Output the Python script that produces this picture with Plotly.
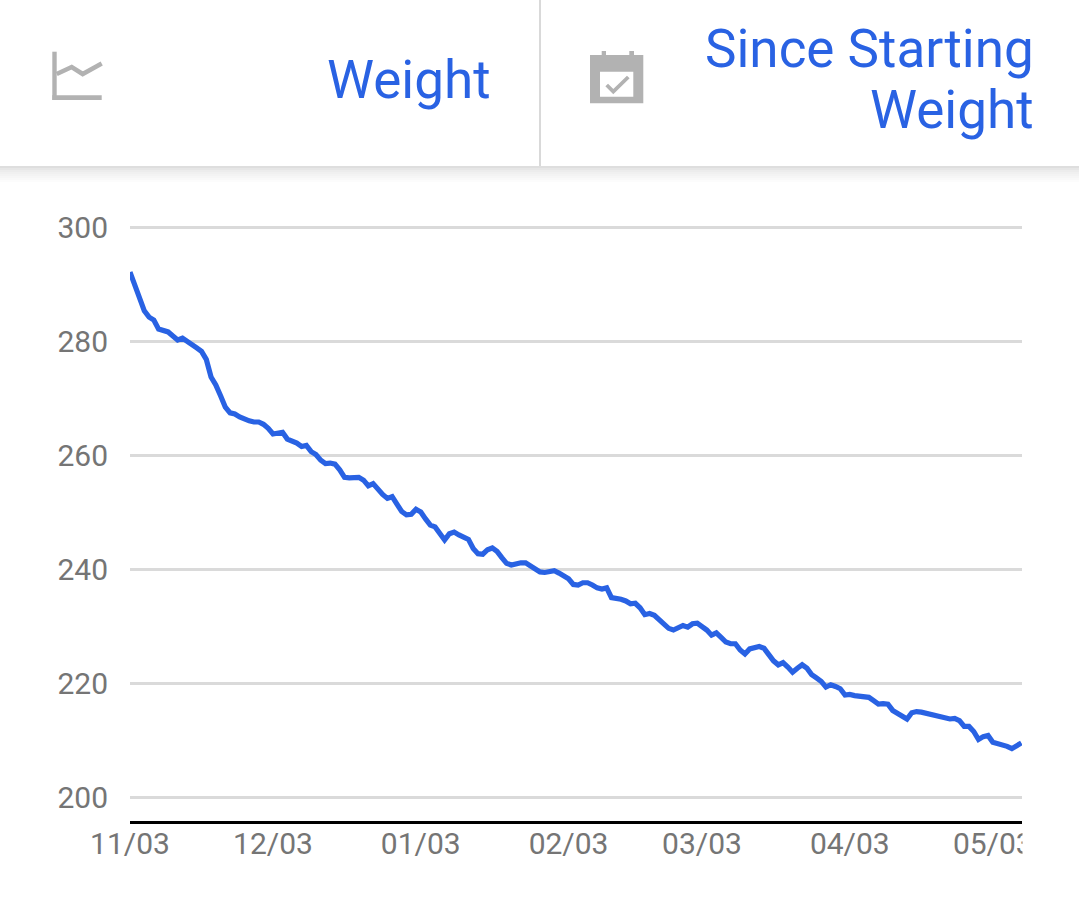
import plotly.graph_objects as go

# ---------------- data ----------------
dates = [
    # Nov 2020
    "2020-11-03", "2020-11-04", "2020-11-05", "2020-11-06", "2020-11-07", "2020-11-08", "2020-11-09",
    "2020-11-10", "2020-11-11", "2020-11-12", "2020-11-13", "2020-11-14", "2020-11-15", "2020-11-16",
    "2020-11-17", "2020-11-18", "2020-11-19", "2020-11-20", "2020-11-21", "2020-11-22", "2020-11-23",
    "2020-11-24", "2020-11-25", "2020-11-26", "2020-11-27", "2020-11-28", "2020-11-29", "2020-11-30",
    # Dec 2020
    "2020-12-01", "2020-12-02", "2020-12-03", "2020-12-04", "2020-12-05", "2020-12-06", "2020-12-07",
    "2020-12-08", "2020-12-09", "2020-12-10", "2020-12-11", "2020-12-12", "2020-12-13", "2020-12-14",
    "2020-12-15", "2020-12-16", "2020-12-17", "2020-12-18", "2020-12-19", "2020-12-20", "2020-12-21",
    "2020-12-22", "2020-12-23", "2020-12-24", "2020-12-25", "2020-12-26", "2020-12-27", "2020-12-28",
    "2020-12-29", "2020-12-30", "2020-12-31",
    # Jan 2021
    "2021-01-01", "2021-01-02", "2021-01-03", "2021-01-04", "2021-01-05", "2021-01-06", "2021-01-07",
    "2021-01-08", "2021-01-09", "2021-01-10", "2021-01-11", "2021-01-12", "2021-01-13", "2021-01-14",
    "2021-01-15", "2021-01-16", "2021-01-17", "2021-01-18", "2021-01-19", "2021-01-20", "2021-01-21",
    "2021-01-22", "2021-01-23", "2021-01-24", "2021-01-25", "2021-01-26", "2021-01-27", "2021-01-28",
    "2021-01-29", "2021-01-30", "2021-01-31",
    # Feb 2021
    "2021-02-01", "2021-02-02", "2021-02-03", "2021-02-04", "2021-02-05", "2021-02-06", "2021-02-07",
    "2021-02-08", "2021-02-09", "2021-02-10", "2021-02-11", "2021-02-12", "2021-02-13", "2021-02-14",
    "2021-02-15", "2021-02-16", "2021-02-17", "2021-02-18", "2021-02-19", "2021-02-20", "2021-02-21",
    "2021-02-22", "2021-02-23", "2021-02-24", "2021-02-25", "2021-02-26", "2021-02-27", "2021-02-28",
    # Mar 2021
    "2021-03-01", "2021-03-02", "2021-03-03", "2021-03-04", "2021-03-05", "2021-03-06", "2021-03-07",
    "2021-03-08", "2021-03-09", "2021-03-10", "2021-03-11", "2021-03-12", "2021-03-13", "2021-03-14",
    "2021-03-15", "2021-03-16", "2021-03-17", "2021-03-18", "2021-03-19", "2021-03-20", "2021-03-21",
    "2021-03-22", "2021-03-23", "2021-03-24", "2021-03-25", "2021-03-26", "2021-03-27", "2021-03-28",
    "2021-03-29", "2021-03-30", "2021-03-31",
    # Apr 2021
    "2021-04-01", "2021-04-02", "2021-04-03", "2021-04-04", "2021-04-05", "2021-04-06", "2021-04-07",
    "2021-04-08", "2021-04-09", "2021-04-10", "2021-04-11", "2021-04-12", "2021-04-13", "2021-04-14",
    "2021-04-15", "2021-04-16", "2021-04-17", "2021-04-18",
    "2021-04-24", "2021-04-25", "2021-04-26", "2021-04-27", "2021-04-28", "2021-04-29", "2021-04-30",
    # May 2021
    "2021-05-01", "2021-05-02", "2021-05-03", "2021-05-04", "2021-05-05", "2021-05-06", "2021-05-07",
    "2021-05-08", "2021-05-09",
]

weights = [
    # Nov
    292.1, 289.8, 287.4, 285.3, 284.2, 283.7, 282.1,
    281.8, 281.6, 280.9, 280.2, 280.5, 280.0, 279.3,
    278.8, 278.2, 276.8, 273.7, 272.3, 270.4, 268.4,
    267.4, 267.2, 266.7, 266.3, 266.0, 265.8, 265.8,
    # Dec
    265.4, 264.7, 263.7, 263.9, 264.0, 262.8, 262.5,
    262.1, 261.5, 261.7, 260.6, 260.1, 259.1, 258.5,
    258.6, 258.4, 257.4, 256.1, 256.0, 256.0, 256.1,
    255.6, 254.6, 255.0, 254.0, 253.1, 252.4, 252.7,
    251.4, 250.1, 249.5,
    # Jan
    249.6, 250.5, 250.0, 248.8, 247.7, 247.4, 246.3,
    245.1, 246.2, 246.5, 246.0, 245.6, 245.2, 243.6,
    242.7, 242.6, 243.4, 243.7, 243.1, 242.0, 241.0,
    240.7, 241.0, 241.1, 241.1, 240.6, 240.0, 239.5,
    239.4, 239.6, 239.7,
    # Feb
    239.3, 238.8, 238.3, 237.3, 237.2, 237.6, 237.6,
    237.2, 236.7, 236.5, 236.7, 235.0, 234.9, 234.7,
    234.4, 233.9, 234.0, 233.2, 232.0, 232.2, 231.9,
    231.1, 230.3, 229.6, 229.3, 229.7, 230.1, 229.8,
    # Mar
    230.4, 230.5, 229.9, 229.3, 228.4, 228.8, 228.0,
    227.2, 226.9, 226.9, 225.8, 225.1, 226.0, 226.1,
    226.4, 226.1, 225.0, 223.9, 223.2, 223.6, 222.8,
    221.9, 222.6, 223.2, 222.6, 221.5, 220.9, 220.3,
    219.3, 219.7, 219.4,
    # Apr
    219.0, 217.9, 218.0, 217.8, 217.7, 217.7, 217.5,
    216.9, 216.3, 216.4, 216.3, 215.2, 214.7, 214.3,
    213.7, 214.8, 215.0, 214.9,
    213.7, 213.8, 213.4, 212.4, 212.4, 211.5, 210.1,
    # May
    210.6, 210.8, 209.6, 209.4, 209.3, 208.9, 208.5,
    209.1, 209.5,
]

x_tick_dates = ["2020-11-03", "2020-12-03", "2021-01-03", "2021-02-03",
                "2021-03-03", "2021-04-03", "2021-05-03"]
x_tick_labels = ["11/03", "12/03", "01/03", "02/03", "03/03", "04/03", "05/03"]
y_tick_vals = [200, 220, 240, 260, 280, 300]
y_tick_labels = ["200", "220", "240", "260", "280", "300"]

header_left = "Weight"
header_right_1 = "Since Starting"
header_right_2 = "Weight"

# ---------------- styling ----------------
W, H = 1079, 912
ML, MR, MT, MB = 130, 57, 198, 91
BLUE = "#2962e3"
ICON = "#b2b2b2"
FONT = "Roboto"

pw = W - ML - MR
ph = H - MT - MB


def X(px):
    return (px - ML) / pw


def Y(py):
    return (H - MB - py) / ph


fig = go.Figure()
fig.add_trace(go.Scatter(
    x=dates, y=weights, mode="lines",
    line=dict(color=BLUE, width=5.2),
    hoverinfo="x+y",
))

shapes = []
# header separators / shadow
shapes.append(dict(type="line", xref="paper", yref="paper",
                   x0=X(540), x1=X(540), y0=Y(0), y1=Y(166),
                   line=dict(color="#d9d9d9", width=2), layer="above"))
shadow = ["#dedede", "#e6e6e6", "#ececec", "#f0f0f0", "#f3f3f3", "#f6f6f6", "#f9f9f9", "#fcfcfc"]
for i, c in enumerate(shadow):
    shapes.append(dict(type="rect", xref="paper", yref="paper",
                       x0=X(0), x1=X(W), y0=Y(166 + 2 * i), y1=Y(168 + 2 * i),
                       fillcolor=c, line=dict(width=0), layer="above"))

# line-chart icon
shapes.append(dict(type="rect", xref="paper", yref="paper",
                   x0=X(52.3), x1=X(56.7), y0=Y(100), y1=Y(51.7),
                   fillcolor=ICON, line=dict(width=0), layer="above"))
shapes.append(dict(type="rect", xref="paper", yref="paper",
                   x0=X(52.3), x1=X(101.7), y0=Y(100), y1=Y(95.3),
                   fillcolor=ICON, line=dict(width=0), layer="above"))
zz = [(56.7, 74), (71.7, 67), (82.7, 74), (101.7, 63.5)]
path = "M " + " L ".join(f"{X(a)},{Y(b)}" for a, b in zz)
shapes.append(dict(type="path", xref="paper", yref="paper", path=path,
                   line=dict(color=ICON, width=4.6), layer="above"))

# calendar icon
shapes.append(dict(type="rect", xref="paper", yref="paper",
                   x0=X(590), x1=X(643.3), y0=Y(103.3), y1=Y(55),
                   fillcolor=ICON, line=dict(width=0), layer="above"))
shapes.append(dict(type="rect", xref="paper", yref="paper",
                   x0=X(600), x1=X(633.3), y0=Y(96.7), y1=Y(71.7),
                   fillcolor="white", line=dict(width=0), layer="above"))
for a, b in [(601.7, 606), (629.3, 634)]:
    shapes.append(dict(type="rect", xref="paper", yref="paper",
                       x0=X(a), x1=X(b), y0=Y(56), y1=Y(51),
                       fillcolor=ICON, line=dict(width=0), layer="above"))
ck = [(606.7, 85), (613.3, 91.5), (628.3, 77)]
path = "M " + " L ".join(f"{X(a)},{Y(b)}" for a, b in ck)
shapes.append(dict(type="path", xref="paper", yref="paper", path=path,
                   line=dict(color=ICON, width=3.8), layer="above"))

# clip the last x tick label at the plot's right edge
shapes.append(dict(type="rect", xref="paper", yref="paper",
                   x0=X(1022.5), x1=X(W + 5), y0=Y(880), y1=Y(824),
                   fillcolor="white", line=dict(width=0), layer="above"))

annotations = [
    dict(text=header_left, xref="paper", yref="paper", x=X(493), y=Y(80),
         xanchor="right", yanchor="middle", showarrow=False,
         font=dict(family=FONT, size=53, color=BLUE)),
    dict(text=header_right_1, xref="paper", yref="paper", x=X(1036), y=Y(49),
         xanchor="right", yanchor="middle", showarrow=False,
         font=dict(family=FONT, size=53, color=BLUE)),
    dict(text=header_right_2, xref="paper", yref="paper", x=X(1036), y=Y(110),
         xanchor="right", yanchor="middle", showarrow=False,
         font=dict(family=FONT, size=53, color=BLUE)),
]

fig.update_layout(
    width=W, height=H,
    margin=dict(l=ML, r=MR, t=MT, b=MB, pad=0),
    paper_bgcolor="white", plot_bgcolor="white",
    showlegend=False,
    font=dict(family=FONT, color="#757575"),
    shapes=shapes,
    annotations=annotations,
    xaxis=dict(
        type="date",
        range=["2020-11-03", "2021-05-09 03:00"],
        tickvals=x_tick_dates, ticktext=x_tick_labels,
        tickfont=dict(family=FONT, size=30, color="#757575"),
        showgrid=False, zeroline=False,
        showline=True, linecolor="black", linewidth=3,
        ticks="", fixedrange=True, ticklabelstandoff=-6,
    ),
    yaxis=dict(
        range=[195.8, 305.1],
        tickvals=y_tick_vals, ticktext=y_tick_labels,
        tickfont=dict(family=FONT, size=30, color="#757575"),
        showgrid=True, gridcolor="#dadada", gridwidth=2.5,
        zeroline=False, showline=False, ticks="",
        ticklabelstandoff=21, fixedrange=True,
    ),
)

fig.write_html("out.html", config={"displayModeBar": False},
               post_script="document.body.style.margin='0px';")
